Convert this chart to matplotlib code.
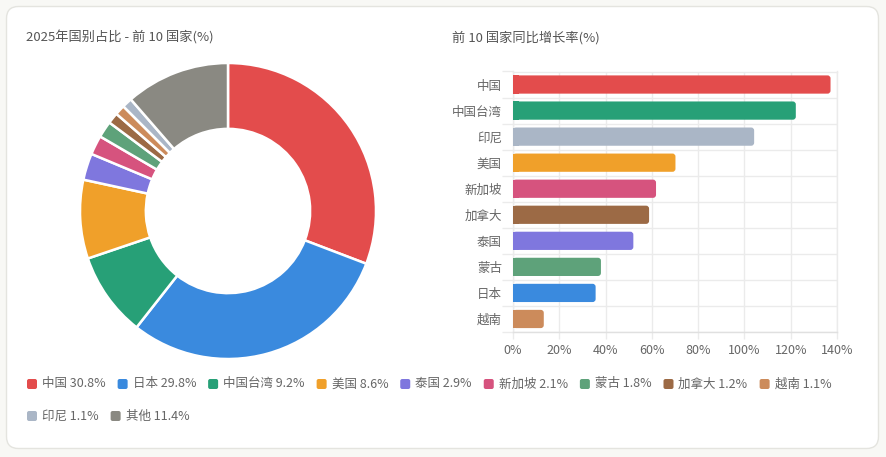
import matplotlib
matplotlib.use("Agg")
import matplotlib.pyplot as plt
from matplotlib.patches import FancyBboxPatch, Rectangle

plt.rcParams['font.family'] = ['Noto Sans CJK SC', 'DejaVu Sans']

# ---- data ----
pie_labels = ["中国", "日本", "中国台湾", "美国", "泰国", "新加坡", "蒙古", "加拿大", "越南", "印尼", "其他"]
pie_values = [30.8, 29.8, 9.2, 8.6, 2.9, 2.1, 1.8, 1.2, 1.1, 1.1, 11.4]
pie_colors = ["#e34c4c", "#3a8ade", "#27a077", "#f0a02a", "#7f77de", "#d6537e",
              "#5ea27a", "#9c6a45", "#cc8b5b", "#aab6c6", "#8a8982"]

bar_labels = ["中国", "中国台湾", "印尼", "美国", "新加坡", "加拿大", "泰国", "蒙古", "日本", "越南"]
bar_values = [137.2, 122.2, 104.2, 70.2, 61.8, 58.8, 52.0, 38.0, 35.7, 13.3]
bar_colors = ["#e34c4c", "#27a077", "#aab6c6", "#f0a02a", "#d6537e", "#9c6a45",
              "#7f77de", "#5ea27a", "#3a8ade", "#cc8b5b"]
x_ticks = [0, 20, 40, 60, 80, 100, 120, 140]

title_left = "2025年国别占比 - 前 10 国家(%)"
title_right = "前 10 国家同比增长率(%)"

W, H = 886, 457
fig = plt.figure(figsize=(W / 100, H / 100), dpi=100)
fig.patch.set_facecolor("#f8f8f5")

# background overlay in pixel coordinates
bg = fig.add_axes([0, 0, 1, 1], zorder=0)
bg.set_xlim(0, W)
bg.set_ylim(H, 0)
bg.axis("off")
card = FancyBboxPatch((6.5, 6.5), 872, 442, boxstyle="round,pad=0,rounding_size=12",
                      facecolor="white", edgecolor="#e4e4df", linewidth=1)
bg.add_patch(card)

text_color = "#555555"
tick_color = "#666666"
bg.text(26, 38, title_left, fontsize=9.5, color=text_color, va="center", ha="left")
bg.text(452, 38, title_right, fontsize=9.5, color=text_color, va="center", ha="left")

# ---- donut ----
cx, cy, r = 228, 211, 148
half = 152
pax = fig.add_axes([(cx - half) / W, (H - cy - half) / H, 2 * half / W, 2 * half / H], zorder=1)
pax.pie(pie_values, colors=pie_colors, startangle=90, counterclock=False,
        radius=1.0, wedgeprops=dict(width=0.445, edgecolor="white", linewidth=1.8))
lim = half / r
pax.set_xlim(-lim, lim)
pax.set_ylim(-lim, lim)
pax.set_aspect("equal")
pax.axis("off")

# ---- bars ----
left, right, top, bottom = 513, 837, 71.5, 332
bax = fig.add_axes([left / W, (H - bottom) / H, (right - left) / W, (bottom - top) / H], zorder=1)
bax.patch.set_alpha(0)
n = len(bar_values)
bax.set_xlim(0, 140)
bax.set_ylim(n - 0.5, -0.5)
grid_c = "#ebebeb"
bh = 0.70
px_x = (right - left) / 140.0
px_y = (bottom - top) / n
rad_px = 3.0
R = rad_px / px_x
asp = (rad_px / px_y) / R
for i, (v, c) in enumerate(zip(bar_values, bar_colors)):
    fb = FancyBboxPatch((0, i - bh / 2), v, bh,
                        boxstyle="round,pad=0,rounding_size=%f" % R,
                        mutation_aspect=asp, facecolor=c, edgecolor="none", zorder=3)
    bax.add_patch(fb)
    bax.add_patch(Rectangle((0, i - bh / 2), min(2 * R, v), bh, facecolor=c,
                            edgecolor="none", zorder=3))

bax.set_xticks(x_ticks)
bax.set_xticklabels([f"{t}%" for t in x_ticks])
bax.set_yticks(range(n))
bax.set_yticklabels(bar_labels)
bax.set_yticks([i - 0.5 for i in range(n + 1)], minor=True)
bax.tick_params(axis="y", which="major", length=0, pad=8, labelsize=9, labelcolor=tick_color)
bax.tick_params(axis="y", which="minor", length=8, color=grid_c, width=1)
bax.tick_params(axis="x", which="major", length=5, color=grid_c, width=1, pad=4,
                labelsize=9, labelcolor=tick_color)
bax.grid(True, axis="x", which="major", color=grid_c, linewidth=1, zorder=0)
bax.grid(True, axis="y", which="minor", color=grid_c, linewidth=1, zorder=0)
bax.set_axisbelow(True)
for s in bax.spines.values():
    s.set_color(grid_c)
    s.set_linewidth(1)
bax.spines["bottom"].set_color("#e0e0e0")

# ---- legend (flow layout) ----
renderer = fig.canvas.get_renderer()
x = 27.0
y = 384.0
row_gap = 32
x_max = 860
for lab, val, c in zip(pie_labels, pie_values, pie_colors):
    s = f"{lab} {val}%"
    t = bg.text(0, y, s, fontsize=9, color=tick_color, va="center", ha="left")
    w = t.get_window_extent(renderer).width
    if x + 15 + w > x_max:
        x = 27.0
        y += row_gap
        t.set_y(y)
    bg.add_patch(FancyBboxPatch((x, y - 5), 10, 10, boxstyle="round,pad=0,rounding_size=2",
                                facecolor=c, edgecolor="none"))
    t.set_x(x + 15)
    x += 15 + w + 12

fig.savefig("out.png", dpi=100, facecolor=fig.get_facecolor())
